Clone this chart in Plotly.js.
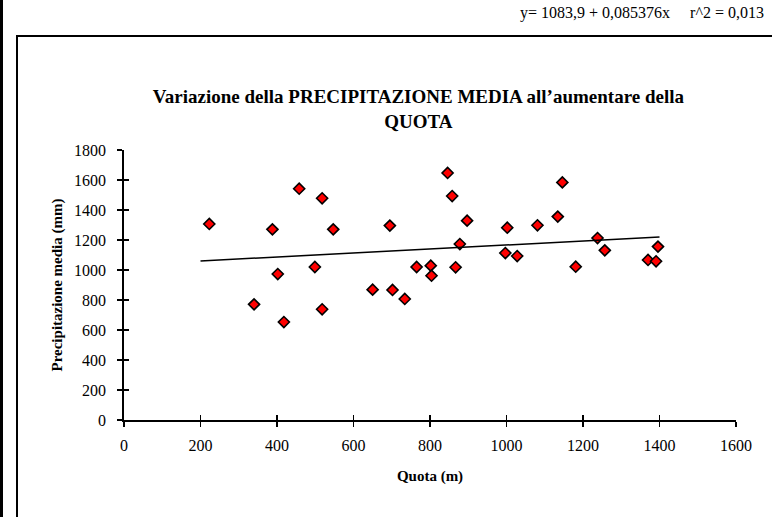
<!DOCTYPE html>
<html>
<head>
<meta charset="utf-8">
<script src="https://cdn.plot.ly/plotly-3.0.1.min.js"></script>
<style>html,body{margin:0;padding:0;background:#fff;}#chart{width:772px;height:517px;}</style>
</head>
<body>
<div id="chart"></div>
<script>
// Data
const quota = [223, 458, 518, 388, 547, 499, 402, 340, 518, 418,
               846, 858, 695, 897, 1002, 1081, 878, 997, 1028, 765,
               802, 804, 867, 650, 702, 734, 1146, 1134, 1238, 1257,
               1181, 1396, 1370, 1391];
const precipitazione = [1307, 1542, 1478, 1271, 1271, 1020, 973, 771, 738, 653,
                        1647, 1493, 1296, 1329, 1282, 1298, 1173, 1113, 1093, 1020,
                        1029, 962, 1018, 869, 867, 807, 1584, 1356, 1213, 1131,
                        1022, 1156, 1067, 1058];
const trendX = [200, 1400];
const trendY = [1060, 1220];
const xTicks = [0, 200, 400, 600, 800, 1000, 1200, 1400, 1600];
const yTicks = [0, 200, 400, 600, 800, 1000, 1200, 1400, 1600, 1800];

const FONT = 'Liberation Serif, Times New Roman, serif';
// plot area in pixels
const L = 124, R = 736, T = 150, B = 420;
const px = x => (x - L) / (R - L);
const py = y => (B - y) / (B - T);

const traces = [
  {x: trendX, y: trendY, xaxis: 'x2', yaxis: 'y2', mode: 'lines',
   line: {color: '#000', width: 1.5}, hoverinfo: 'skip', showlegend: false},
  {x: quota, y: precipitazione, mode: 'markers', type: 'scatter',
   marker: {symbol: 'diamond', size: 8.5, color: '#ff0000', line: {color: '#000', width: 1.6}},
   showlegend: false}
];

const axBase = {showgrid: false, zeroline: false, showline: true, linecolor: '#000', linewidth: 1.8,
  ticklen: 5, tickwidth: 1.6, tickcolor: '#000', tickfont: {family: FONT, size: 16, color: '#000'}};

const layout = {
  width: 772, height: 517,
  margin: {l: L, r: 772 - R, t: T, b: 517 - B, pad: 0},
  paper_bgcolor: '#fff', plot_bgcolor: 'rgba(0,0,0,0)',
  font: {family: FONT, color: '#000'},
  xaxis: Object.assign({}, axBase, {range: [0, 1600], tickvals: xTicks, ticktext: xTicks.map(String), ticks: 'outside',
     ticklabelstandoff: 5,
     title: {text: '<b>Quota (m)</b>', font: {family: FONT, size: 15, color: '#000'}, standoff: 17}}),
  yaxis: Object.assign({}, axBase, {range: [0, 1800], tickvals: yTicks, ticktext: yTicks.map(String), ticks: 'outside',
     ticklabelstandoff: 8,
     title: {text: '<b>Precipitazione media (mm)</b>', font: {family: FONT, size: 15, color: '#000'}, standoff: 8}}),
  xaxis2: {overlaying: 'x', anchor: 'y2', range: [0, 1600], tickvals: xTicks, ticks: 'inside', ticklen: 5,
     tickwidth: 1.6, tickcolor: '#000', showticklabels: false, showline: false, showgrid: false, zeroline: false},
  yaxis2: {overlaying: 'y', anchor: 'x2', range: [0, 1800], tickvals: yTicks, ticks: 'inside', ticklen: 5,
     tickwidth: 1.6, tickcolor: '#000', showticklabels: false, showline: false, showgrid: false, zeroline: false},
  title: {text: '<b>Variazione della PRECIPITAZIONE MEDIA all’aumentare della<br>QUOTA</b>',
     font: {family: FONT, size: 19, color: '#000'}, x: 0.542, xanchor: 'center', y: 0.80, yanchor: 'middle'},
  annotations: [
    {xref: 'paper', yref: 'paper', x: px(766), y: py(13), xanchor: 'right', yanchor: 'middle', showarrow: false,
     text: 'y= 1083,9 + 0,085376x&nbsp;&nbsp;&nbsp;&nbsp;&nbsp;r^2 = 0,013', font: {family: FONT, size: 16, color: '#000'}}
  ],
  shapes: [
    {type: 'rect', xref: 'paper', yref: 'paper', x0: px(17), x1: px(790), y0: py(36), y1: py(540),
     line: {color: '#000', width: 2}, fillcolor: 'rgba(0,0,0,0)', layer: 'below'},
    {type: 'line', xref: 'paper', yref: 'paper', x0: px(1.5), x1: px(1.5), y0: py(-10), y1: py(540),
     line: {color: '#000', width: 3}}
  ]
};

Plotly.newPlot('chart', traces, layout, {displayModeBar: false, staticPlot: true});
</script>
</body>
</html>
